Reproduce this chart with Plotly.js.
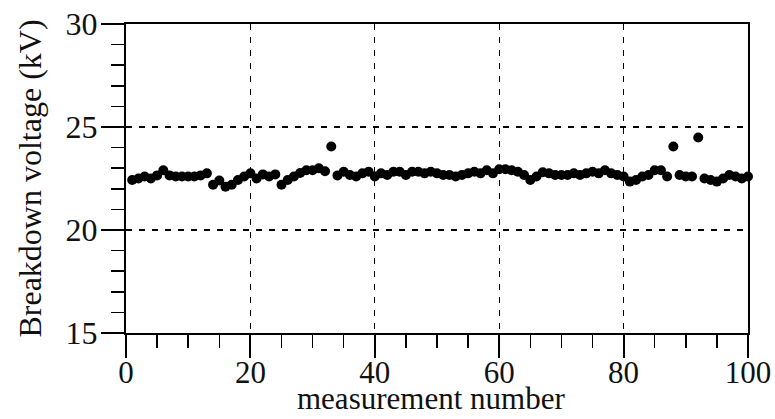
<!DOCTYPE html>
<html>
<head>
<meta charset="utf-8">
<script src="https://cdn.plot.ly/plotly-3.0.1.min.js"></script>
<style>
  html, body { margin: 0; padding: 0; background: #fff; }
  #chart { width: 775px; height: 419px; }
</style>
</head>
<body>
<div id="chart"></div>
<script>
// Breakdown voltage recorded for each of 100 successive measurements
const measurementNumber = [
  1, 2, 3, 4, 5, 6, 7, 8, 9, 10,
  11, 12, 13, 14, 15, 16, 17, 18, 19, 20,
  21, 22, 23, 24, 25, 26, 27, 28, 29, 30,
  31, 32, 33, 34, 35, 36, 37, 38, 39, 40,
  41, 42, 43, 44, 45, 46, 47, 48, 49, 50,
  51, 52, 53, 54, 55, 56, 57, 58, 59, 60,
  61, 62, 63, 64, 65, 66, 67, 68, 69, 70,
  71, 72, 73, 74, 75, 76, 77, 78, 79, 80,
  81, 82, 83, 84, 85, 86, 87, 88, 89, 90,
  91, 92, 93, 94, 95, 96, 97, 98, 99, 100
];

const breakdownKV = [
  22.43, 22.50, 22.60, 22.50, 22.65, 22.90, 22.65, 22.60, 22.60, 22.60,
  22.60, 22.65, 22.75, 22.20, 22.40, 22.10, 22.20, 22.43, 22.60, 22.75,
  22.50, 22.70, 22.60, 22.70, 22.20, 22.43, 22.60, 22.77, 22.90, 22.90,
  23.00, 22.85, 24.05, 22.65, 22.83, 22.67, 22.60, 22.75, 22.83, 22.60,
  22.75, 22.67, 22.83, 22.83, 22.67, 22.83, 22.83, 22.75, 22.83, 22.75,
  22.67, 22.67, 22.60, 22.67, 22.75, 22.83, 22.75, 22.90, 22.75, 22.95,
  22.95, 22.90, 22.83, 22.67, 22.43, 22.60, 22.80, 22.75, 22.67, 22.67,
  22.67, 22.75, 22.67, 22.75, 22.83, 22.75, 22.90, 22.75, 22.67, 22.60,
  22.35, 22.43, 22.60, 22.67, 22.90, 22.90, 22.60, 24.05, 22.67, 22.60,
  22.60, 24.49, 22.50, 22.43, 22.35, 22.50, 22.67, 22.60, 22.50, 22.60
];

const xTickValues = [0, 20, 40, 60, 80, 100];
const yTickValues = [15, 20, 25, 30];

const ink = '#111';
const serif = 'Liberation Serif, Times New Roman, serif';
const yTickFont = { family: serif, size: 32, color: ink };
const xTickFont = { family: serif, size: 31, color: ink };
const titleFont = { family: serif, size: 32, color: ink };
const xTitleFont = { family: serif, size: 31, color: ink };

const trace = {
  x: measurementNumber,
  y: breakdownKV,
  type: 'scatter',
  mode: 'markers',
  marker: { color: '#000', size: 10, line: { width: 0 } },
  cliponaxis: false,
  hoverinfo: 'x+y'
};

const axisCommon = {
  showline: true,
  linecolor: '#000',
  linewidth: 2,
  mirror: true,
  ticks: 'outside',
  tickwidth: 2,
  tickcolor: '#000',
  ticklen: 23,
  tickmode: 'array',
  showgrid: true,
  gridcolor: '#000',
  gridwidth: 1.3,
  griddash: '6px,7px',
  zeroline: false,
  automargin: false
};

const layout = {
  width: 775,
  height: 419,
  margin: { l: 126, r: 27, t: 24, b: 86 },
  paper_bgcolor: '#fff',
  plot_bgcolor: '#fff',
  showlegend: false,
  font: titleFont,
  xaxis: Object.assign({}, axisCommon, {
    range: [0, 100],
    tickvals: xTickValues,
    ticktext: xTickValues.map(String),
    tickfont: xTickFont,
    ticklabelstandoff: -12,
    minor: { dtick: 5, tick0: 0, ticks: 'outside', ticklen: 13, tickwidth: 1.5, tickcolor: '#000', showgrid: false }
  }),
  yaxis: Object.assign({}, axisCommon, {
    range: [15, 30],
    tickvals: yTickValues,
    ticktext: yTickValues.map(String),
    tickfont: yTickFont,
    ticklabelstandoff: -3,
    minor: { dtick: 1, tick0: 15, ticks: 'outside', ticklen: 13, tickwidth: 1.5, tickcolor: '#000', showgrid: false },
    title: { text: 'Breakdown voltage (kV)', font: titleFont, standoff: 14 }
  }),
  // x-axis title set as a paper-anchored label so it can sit tight under the tick numbers
  annotations: [{
    text: 'measurement number',
    xref: 'paper', yref: 'paper',
    x: 0.49, y: -0.276,
    xanchor: 'center', yanchor: 'bottom',
    showarrow: false,
    font: xTitleFont
  }]
};

Plotly.newPlot('chart', [trace], layout, { staticPlot: true, displayModeBar: false });
</script>
</body>
</html>
